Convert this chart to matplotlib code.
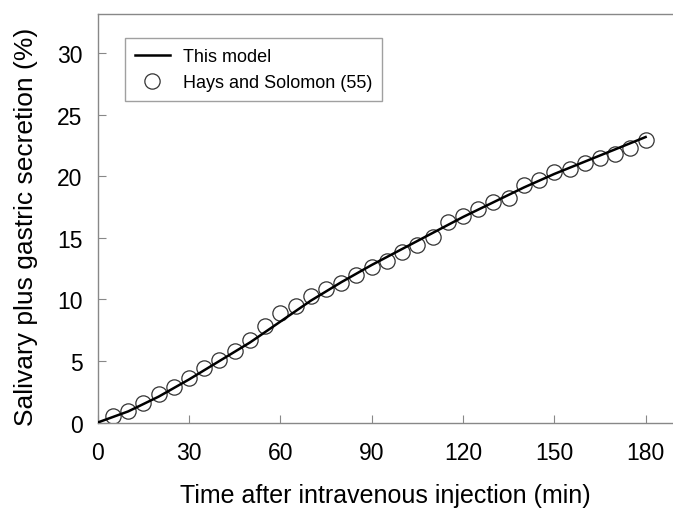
import numpy as np
import matplotlib
matplotlib.use('Agg')
import matplotlib.pyplot as plt

plt.rcParams['font.family'] = ['Liberation Sans', 'DejaVu Sans']

# Hays and Solomon (55) measurements
obs_time = [5, 10, 15, 20, 25, 30, 35, 40, 45, 50, 55, 60, 65, 70, 75, 80, 85, 90,
            95, 100, 105, 110, 115, 120, 125, 130, 135, 140, 145, 150, 155, 160,
            165, 170, 175, 180]
obs_secretion = [0.49, 0.94, 1.56, 2.29, 2.89, 3.64, 4.45, 5.05, 5.80, 6.69, 7.88,
                 8.90, 9.44, 10.31, 10.85, 11.33, 12.01, 12.60, 13.09, 13.84, 14.44,
                 15.11, 16.33, 16.78, 17.35, 17.89, 18.21, 19.29, 19.70, 20.32,
                 20.59, 21.10, 21.51, 21.86, 22.32, 22.94]

# model curve
model_time = [0, 10, 20, 30, 40, 50, 60, 70, 80, 90, 100, 110, 120, 130, 140, 150,
              160, 170, 180]
model_secretion = [0.0, 0.9, 2.1, 3.5, 5.0, 6.5, 8.2, 9.9, 11.4, 12.8, 14.1, 15.4,
                   16.7, 17.9, 19.1, 20.2, 21.2, 22.2, 23.2]

fig = plt.figure(figsize=(6.73, 5.10), dpi=100)
ax = fig.add_axes([0.1452, 0.1696, 0.8548, 0.801])

ax.plot(model_time, model_secretion, color='black', lw=1.8, label='This model', zorder=3)
ax.plot(obs_time, obs_secretion, 'o', ms=11, mfc='none', mec='#333333', mew=0.9,
        label='Hays and Solomon (55)', zorder=2)

ax.set_xlim(0, 189)
ax.set_ylim(0, 33.2)
ax.set_xticks(np.arange(0, 181, 30))
ax.set_yticks(np.arange(0, 31, 5))
ax.tick_params(direction='in', length=6, width=0.8, color='#888888', labelsize=16.5)
ax.tick_params(axis='x', pad=13)
ax.tick_params(axis='y', pad=11)
for s in ax.spines.values():
    s.set_color('#888888')
    s.set_linewidth(1.0)
ax.spines['right'].set_visible(False)

ax.set_xlabel('Time after intravenous injection (min)', fontsize=18, labelpad=14)
ax.set_ylabel('Salivary plus gastric secretion (%)', fontsize=19)
ax.yaxis.set_label_coords(-0.104, 0.481)

leg = ax.legend(loc='upper left', bbox_to_anchor=(0.048, 0.941), borderaxespad=0,
                fontsize=13, frameon=True, fancybox=False, handlelength=1.9,
                handletextpad=0.75, labelspacing=0.5, borderpad=0.55)
leg.get_frame().set_edgecolor('#888888')
leg.get_frame().set_linewidth(1.0)

fig.savefig('out.png', dpi=100)
